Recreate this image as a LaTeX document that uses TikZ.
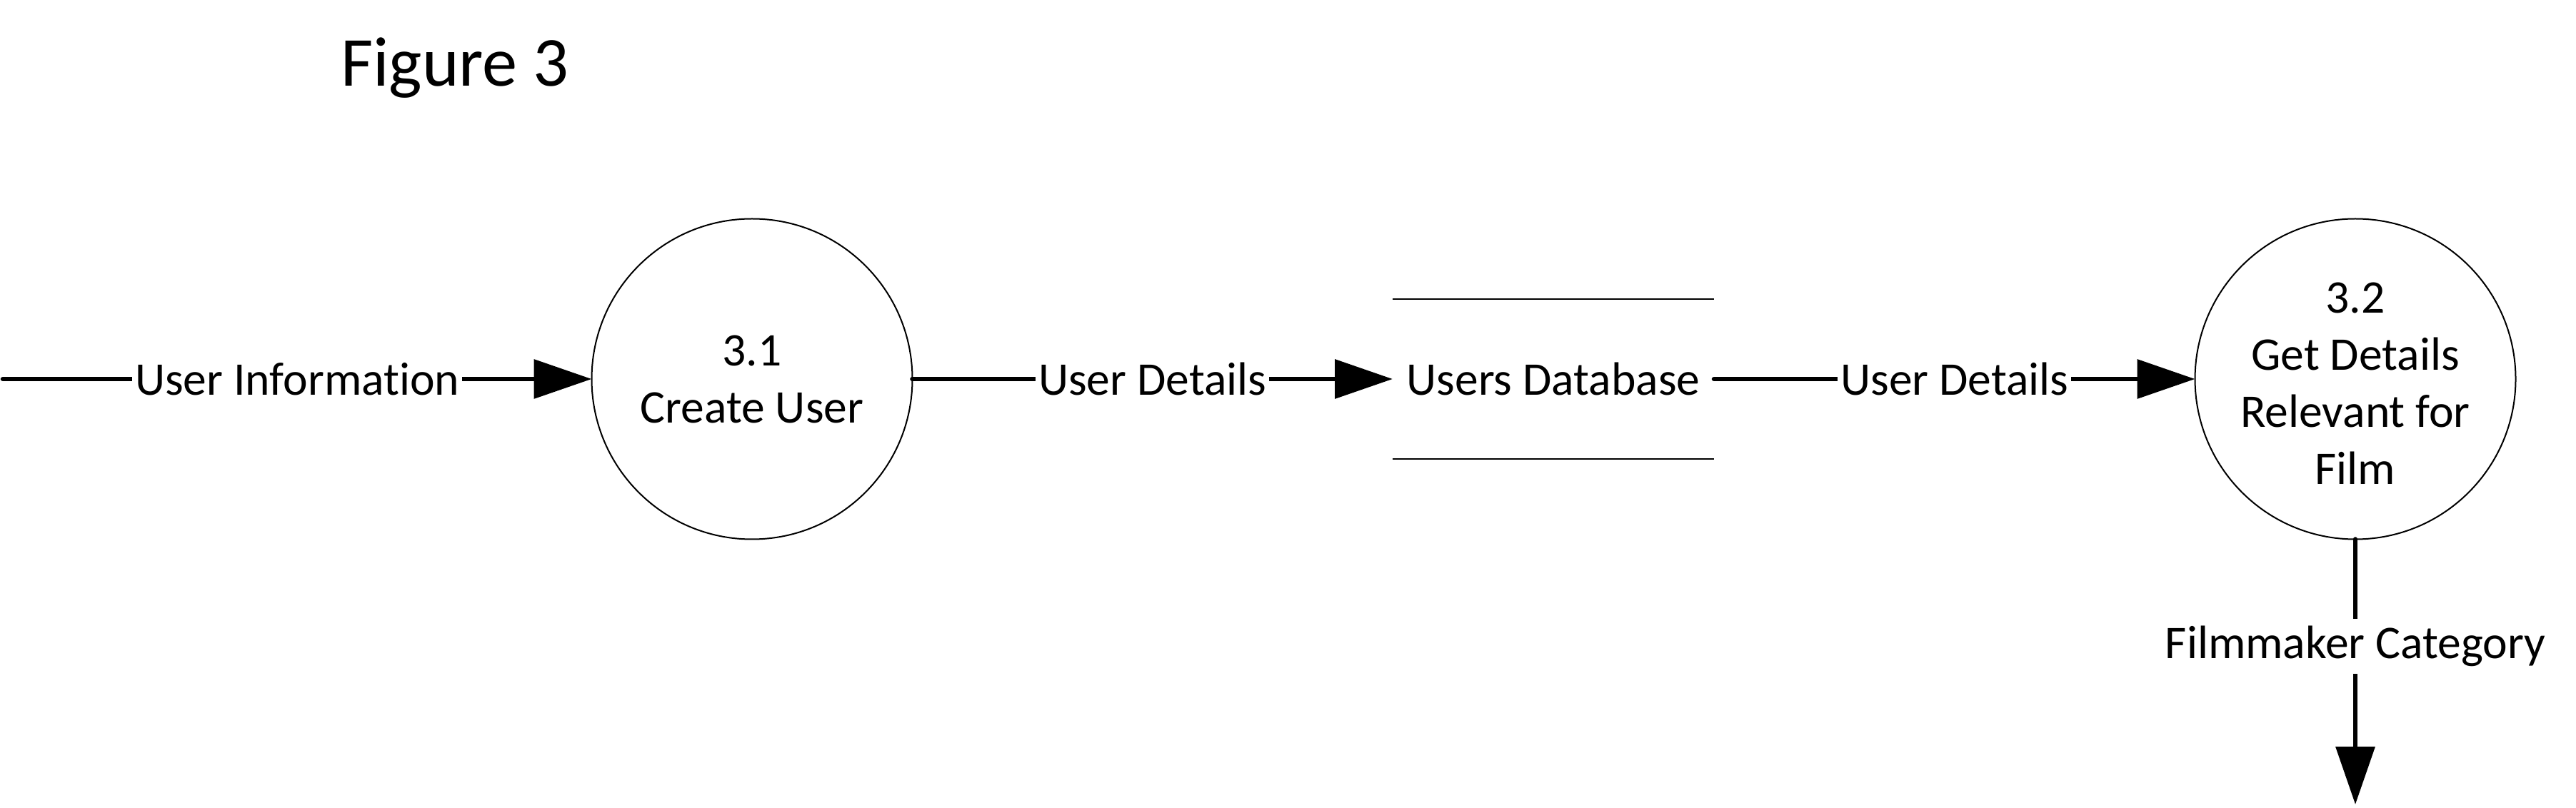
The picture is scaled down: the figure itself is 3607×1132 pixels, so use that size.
\documentclass[tikz,border=0pt]{standalone}
\usepackage{fontspec}
\setmainfont{Carlito}[Ligatures={NoCommon},RawFeature={-liga;-dlig}]
\usetikzlibrary{arrows.meta}
\begin{document}
\begin{tikzpicture}[x=0.25pt,y=-0.25pt,
  proc/.style={circle,draw,line width=0.5pt,minimum size=112.25pt,inner sep=0pt,outer sep=0pt},
  ptext/.style={align=center,font=\fontsize{16.4}{20}\selectfont,inner sep=0pt},
  flow/.style={line width=1.65pt,line cap=round,-{Triangle[length=20.25pt,width=13.5pt]}},
  lbl/.style={fill=white,font=\fontsize{16.4}{20}\selectfont,inner xsep=1pt,inner ysep=2.5pt},
  store/.style={minimum width=112.5pt,minimum height=56pt,inner sep=0pt,outer sep=0pt,font=\fontsize{16.4}{20}\selectfont},
  storeline/.style={line width=0.5pt}
]
\useasboundingbox (0,0) rectangle (3607,1132);

\node[font=\fontsize{24.6}{30}\selectfont,anchor=base,inner sep=0pt] (title) at (637,121) {Figure 3};

\coordinate (src) at (4,531);
\coordinate (sink) at (3298,1127);

\node[proc] (c1) at (1053,531) {};
\node[ptext] (t1) at (c1) {3.1\\Create User};

\node[store] (db) at (2175,531) {Users Database};
\draw[storeline] (db.north west) -- (db.north east);
\draw[storeline] (db.south west) -- (db.south east);

\node[proc] (c2) at (3298,531) {};
\node[ptext] (t2) at (3298,537) {3.2\\Get Details\\Relevant for\\Film};

\draw[flow] (src) -- node[lbl] (l1) {User Information} (c1);
\draw[flow] (c1) -- node[lbl] (l2) {User Details} (db.west);
\draw[flow] (db.east) -- node[lbl] (l3) {User Details} (c2);
\draw[flow] (c2) -- node[lbl,pos=0.403] (l4) {Filmmaker Category} (sink);
\end{tikzpicture}
\end{document}
